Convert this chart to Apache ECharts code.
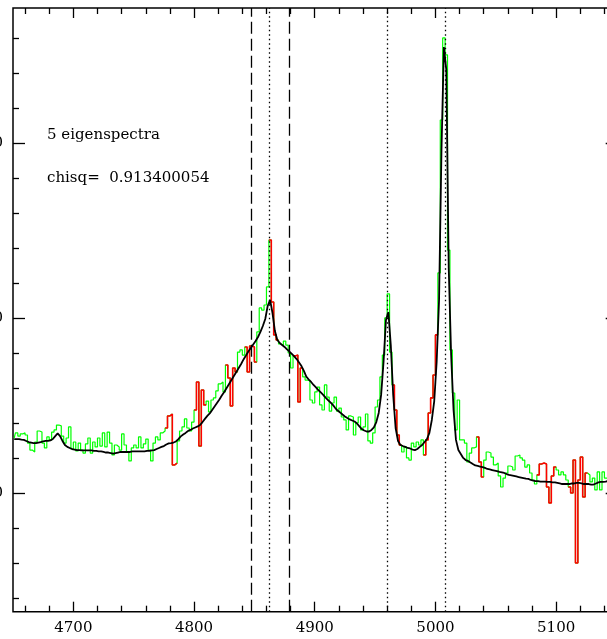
<!DOCTYPE html>
<html>
<head>
<meta charset="utf-8">
<script src="https://cdn.jsdelivr.net/npm/echarts@6/dist/echarts.min.js"></script>
<style>
  html, body { margin: 0; padding: 0; background: #fff; }
  #chart { width: 607px; height: 639px; }
</style>
</head>
<body>
<div id="chart"></div>
<script>
// spectrum sampled every 2 A starting at 4651 A
const waveStart = 4651;
const waveStep = 2;

const flux = [
  13.16, 13.45, 13.27, 13.39, 13.45, 13.33, 12.87, 12.47, 12.36, 12.93,
  13.56, 13.50, 12.87, 12.59, 13.22, 13.05, 13.50, 13.62, 13.90, 13.85,
  13.27, 12.87, 13.16, 13.79, 12.53, 12.93, 12.42, 12.87, 12.47, 12.30,
  12.82, 13.16, 12.30, 12.93, 12.65, 13.16, 12.70, 13.45, 12.65, 13.50,
  12.87, 12.19, 12.76, 12.65, 12.47, 13.39, 12.76, 12.36, 11.85, 12.59,
  12.76, 12.59, 13.22, 12.59, 12.82, 13.10, 12.47, 11.85, 12.87, 13.22,
  13.05, 13.45, 13.56, 13.73, 14.42, 14.53, 11.62, 11.73, 12.99, 13.56,
  13.79, 14.25, 13.73, 13.56, 14.07, 14.76, 16.36, 12.70, 15.90, 15.05,
  15.27, 14.65, 15.33, 15.45, 15.85, 16.25, 16.36, 15.79, 17.33, 16.59,
  14.99, 17.16, 16.93, 18.07, 18.19, 17.90, 18.36, 16.93, 18.42, 18.36,
  17.50, 19.22, 20.59, 20.47, 20.76, 21.79, 24.47, 20.93, 19.05, 18.76,
  18.53, 18.47, 18.70, 18.47, 18.02, 17.16, 17.85, 17.90, 15.22, 17.16,
  16.65, 16.47, 16.47, 15.33, 15.16, 15.79, 16.07, 15.05, 14.76, 16.19,
  15.50, 14.70, 15.16, 15.50, 14.70, 14.87, 14.36, 14.19, 13.62, 14.42,
  14.36, 13.33, 14.02, 14.36, 13.62, 13.79, 14.53, 12.99, 12.87, 13.45,
  14.93, 15.33, 16.65, 17.90, 20.02, 21.39, 18.07, 16.19, 14.76, 13.33,
  12.76, 12.36, 12.65, 12.02, 11.90, 12.87, 12.65, 12.93, 12.76, 13.05,
  12.19, 13.05, 14.59, 15.45, 16.76, 19.05, 22.59, 31.33, 36.02, 35.05,
  23.90, 18.19, 15.73, 13.62, 15.33, 13.05, 13.05, 12.87, 11.79, 12.30,
  12.59, 12.65, 13.22, 11.79, 10.93, 11.90, 12.36, 12.30, 12.07, 11.62,
  11.73, 10.99, 10.36, 10.87, 11.16, 11.56, 11.50, 11.33, 12.13, 12.19,
  12.02, 11.90, 11.50, 11.62, 11.16, 10.76, 10.53, 11.05, 11.67, 11.73,
  11.67, 10.36, 9.45, 10.99, 11.50, 11.33, 11.05, 11.22, 11.05, 10.76,
  10.36, 10.02, 11.90, 6.02, 10.76, 12.07, 9.79, 11.16, 11.05, 10.65,
  10.87, 10.19, 11.22, 10.19, 11.22, 10.87, 10.87
];

// 5-eigenspectra reconstruction
const model = [
  13.10, 13.10, 13.10, 13.07, 13.05, 12.99, 12.93, 12.90, 12.87, 12.87,
  12.90, 12.93, 12.96, 12.99, 12.99, 13.02, 13.10, 13.27, 13.42, 13.27,
  12.99, 12.76, 12.65, 12.59, 12.53, 12.50, 12.47, 12.47, 12.45, 12.45,
  12.45, 12.45, 12.45, 12.42, 12.42, 12.39, 12.39, 12.36, 12.33, 12.33,
  12.30, 12.27, 12.30, 12.33, 12.36, 12.36, 12.36, 12.36, 12.36, 12.39,
  12.39, 12.39, 12.39, 12.39, 12.39, 12.42, 12.42, 12.45, 12.47, 12.53,
  12.59, 12.65, 12.70, 12.79, 12.85, 12.87, 12.90, 12.96, 13.10, 13.25,
  13.36, 13.45, 13.56, 13.62, 13.70, 13.76, 13.82, 13.90, 14.07, 14.25,
  14.42, 14.56, 14.76, 14.96, 15.16, 15.36, 15.59, 15.79, 16.02, 16.25,
  16.47, 16.70, 16.93, 17.16, 17.39, 17.65, 17.87, 18.10, 18.30, 18.50,
  18.70, 18.93, 19.22, 19.56, 19.96, 20.70, 21.05, 20.30, 19.27, 18.76,
  18.59, 18.47, 18.36, 18.22, 18.10, 17.96, 17.82, 17.67, 17.47, 17.27,
  16.99, 16.67, 16.50, 16.36, 16.19, 16.05, 15.90, 15.76, 15.62, 15.47,
  15.33, 15.19, 15.05, 14.87, 14.73, 14.62, 14.50, 14.39, 14.30, 14.22,
  14.16, 14.10, 13.99, 13.82, 13.67, 13.59, 13.53, 13.53, 13.62, 13.76,
  14.07, 14.59, 15.62, 17.50, 19.90, 20.36, 18.47, 15.62, 13.73, 12.99,
  12.76, 12.70, 12.65, 12.59, 12.56, 12.50, 12.47, 12.53, 12.65, 12.76,
  12.93, 13.10, 13.45, 14.19, 15.27, 17.50, 21.05, 29.62, 35.50, 34.19,
  22.87, 17.90, 14.76, 13.05, 12.47, 12.25, 12.02, 11.90, 11.85, 11.76,
  11.67, 11.59, 11.56, 11.53, 11.50, 11.45, 11.39, 11.36, 11.33, 11.30,
  11.27, 11.22, 11.19, 11.16, 11.10, 11.05, 11.02, 10.99, 10.96, 10.93,
  10.90, 10.87, 10.84, 10.82, 10.76, 10.73, 10.70, 10.70, 10.67, 10.67,
  10.67, 10.65, 10.65, 10.62, 10.62, 10.59, 10.56, 10.53, 10.53, 10.53,
  10.53, 10.56, 10.56, 10.59, 10.59, 10.56, 10.53, 10.53, 10.53, 10.50,
  10.50, 10.56, 10.62, 10.65, 10.65, 10.67, 10.70
];

// masked pixels (drawn red), inclusive wavelength ranges
const masked = [
  [4777, 4785], [4801, 4809], [4827, 4835], [4843, 4851], [4863, 4869],
  [4883, 4889], [4965, 4971], [4991, 5001], [5035, 5039], [5085, 5099],
  [5111, 5125]
];

const dashedLines = [4847, 4879];
const dottedLines = [4862.68, 4960.30, 5008.24];

const xMajor = [4700, 4800, 4900, 5000, 5100];
const xMinor = [4660, 4680, 4720, 4740, 4760, 4780, 4820, 4840, 4860, 4880,
  4920, 4940, 4960, 4980, 5020, 5040, 5060, 5080, 5120, 5140];
const yMajor = [10, 20, 30];
const yMinor = [4, 6, 8, 12, 14, 16, 18, 22, 24, 26, 28, 32, 34, 36];

const xMin = 4650, xMax = 5151;
const yMin = 3.234, yMax = 37.73;

const wave = flux.map((_, i) => waveStart + waveStep * i);
const isMasked = (w) => masked.some((r) => w >= r[0] && w <= r[1]);

const greenData = wave.map((w, i) => [w, flux[i]]);
const redData = wave.map((w, i) => [w, isMasked(w) ? flux[i] : null]);
const modelData = wave.map((w, i) => [w, model[i]]);

const font = "DejaVu Serif";

function xAx(pos, ticks, len, labels) {
  return {
    type: "value", position: pos, min: xMin, max: xMax,
    axisLine: { show: false },
    splitLine: { show: false },
    axisTick: { show: true, inside: true, length: len, customValues: ticks,
      lineStyle: { color: "#000", width: 1.3 } },
    axisLabel: labels
      ? { show: true, customValues: ticks, margin: 9, color: "#000",
          fontFamily: font, fontSize: 15, formatter: (v) => String(v) }
      : { show: false },
  };
}

function yAx(pos, ticks, len, labels) {
  return {
    type: "value", position: pos, min: yMin, max: yMax,
    axisLine: { show: false },
    splitLine: { show: false },
    axisTick: { show: true, inside: true, length: len, customValues: ticks,
      lineStyle: { color: "#000", width: 1.3 } },
    axisLabel: labels
      ? { show: true, customValues: ticks, margin: 10, color: "#000",
          fontFamily: font, fontSize: 15, formatter: (v) => String(v) }
      : { show: false },
  };
}

let myChart = echarts.init(document.getElementById("chart"), null, { renderer: "canvas" });

myChart.setOption({
  animation: false,
  backgroundColor: "#fff",
  grid: {
    left: 13, top: 8, width: 604.7, height: 603.7,
    outerBoundsMode: "none", containLabel: false,
    show: true, borderColor: "#000", borderWidth: 1.5, backgroundColor: "transparent",
  },
  xAxis: [
    xAx("bottom", xMajor, 10, true),
    xAx("bottom", xMinor, 6, false),
    xAx("top", xMajor, 10, false),
    xAx("top", xMinor, 6, false),
  ],
  yAxis: [
    yAx("left", yMajor, 12, true),
    yAx("left", yMinor, 6, false),
    yAx("right", yMajor, 12, false),
    yAx("right", yMinor, 6, false),
  ],
  graphic: [
    { type: "text", left: 47, top: 128,
      style: { text: "5 eigenspectra", fill: "#000", font: "15px 'DejaVu Serif'" } },
    { type: "text", left: 47, top: 171,
      style: { text: "chisq=  0.913400054", fill: "#000", font: "15px 'DejaVu Serif'" } },
  ],
  series: [
    {
      name: "flux", type: "line", step: "middle", data: greenData,
      showSymbol: false, silent: true,
      lineStyle: { color: "#00ff00", width: 1.2 },
    },
    {
      name: "masked", type: "line", step: "middle", data: redData,
      showSymbol: false, silent: true, connectNulls: false,
      lineStyle: { color: "#ff0000", width: 1.6 },
    },
    {
      name: "model", type: "line", data: modelData,
      showSymbol: false, silent: true,
      lineStyle: { color: "#000", width: 1.8 },
      markLine: {
        silent: true, symbol: "none", label: { show: false },
        data: [
          ...dashedLines.map((x) => ({ xAxis: x,
            lineStyle: { color: "#000", width: 1.3, type: [12, 5] } })),
          ...dottedLines.map((x) => ({ xAxis: x,
            lineStyle: { color: "#000", width: 1.3, type: [1.5, 3] } })),
        ],
      },
    },
  ],
});
</script>
</body>
</html>
